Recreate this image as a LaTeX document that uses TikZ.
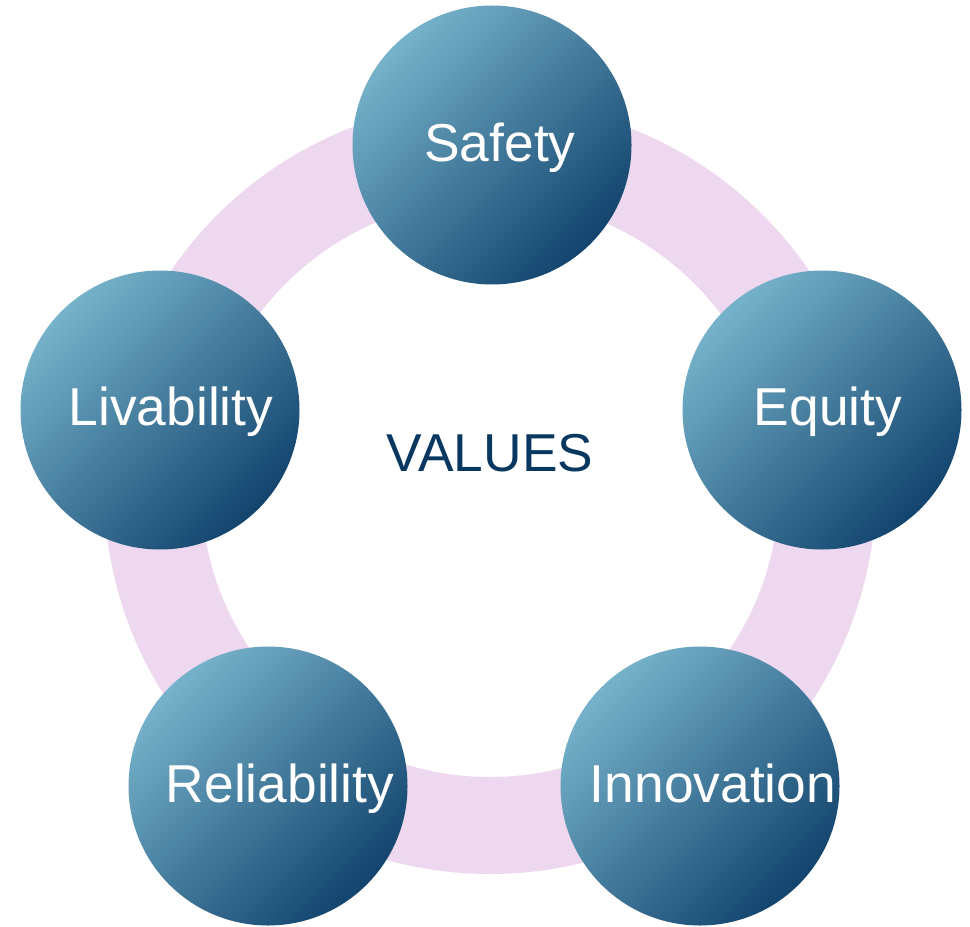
\documentclass[tikz,border=0pt]{standalone}
\usepackage{fontspec}
\setmainfont{Liberation Sans}
\usepackage{tikz}

\definecolor{ringpink}{RGB}{237,216,240}
\definecolor{bubblelight}{RGB}{118,178,202}
\definecolor{bubbledark}{RGB}{18,68,110}
\definecolor{valuesblue}{RGB}{8,55,96}

\begin{document}
\begin{tikzpicture}[
				x=0.75pt,
				y=-0.75pt,
				bubble/.style={circle,minimum size=209.25pt,inner sep=0pt,
					top color=bubblelight,bottom color=bubbledark,shading angle=45},
				bubbletext/.style={anchor=base,text=white,font=\fontsize{40}{48}\selectfont}
				]
				\useasboundingbox (0,0) rectangle (970,927);
				
				% the ring behind the five values
				\fill[ringpink,even odd rule] (490,488) circle (386) (490,488) circle (289);
				
				\node[bubble] (safety) at (492,145) {};
				\node[bubble] (equity) at (822,410) {};
				\node[bubble] (innovation) at (700,786) {};
				\node[bubble] (reliability) at (268,786) {};
				\node[bubble] (livability) at (160,410) {};
				
				\node[bubbletext] (safetytxt) at (500,162) {Safety};
				\node[bubbletext] (equitytxt) at (828,425) {Equity};
				\node[bubbletext] (innovationtxt) at (713,802) {Innovation};
				\node[bubbletext] (reliabilitytxt) at (280,802) {Reliability};
				\node[bubbletext] (livabilitytxt) at (171,425) {Livability};
				
				\node[anchor=base,text=valuesblue,font=\fontsize{40}{48}\selectfont]
				(values) at (490,471) {VALUES};
			\end{tikzpicture}
\end{document}
